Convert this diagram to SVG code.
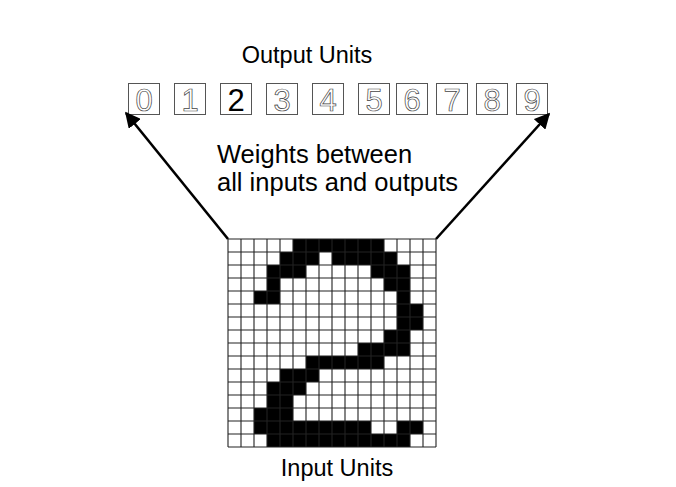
<svg xmlns="http://www.w3.org/2000/svg" width="676" height="487" viewBox="0 0 676 487">
<style>
.lbl{font-family:"Liberation Sans",Arial,sans-serif;fill:#000}
.box{fill:#fff;stroke:#555;stroke-width:1}
.dig{font-family:"Liberation Sans",Arial,sans-serif;font-size:31px;fill:#fff;stroke:#444;stroke-width:0.7;text-anchor:middle}
.dig.on{fill:#000;stroke:none}
.grid{fill:none;stroke:#222;stroke-width:1.1}
.conn{stroke:#000;stroke-width:2.6;fill:none}
</style>
<defs>
<marker id="ah" viewBox="0 0 10 10" refX="9" refY="5" markerWidth="6" markerHeight="6" orient="auto" markerUnits="strokeWidth">
<path d="M0,0 L10,5 L0,10 z" fill="#000"/>
</marker>
</defs>
<rect width="676" height="487" fill="#fff"/>
<text class="lbl" x="307" y="63" font-size="23.5" text-anchor="middle">Output Units</text>
<g id="outputs">
<g id="out0"><rect class="box" x="128.5" y="83.5" width="31" height="31"/><text class="dig" x="144" y="110.5">0</text></g>
<g id="out1"><rect class="box" x="174.5" y="83.5" width="31" height="31"/><text class="dig" x="190" y="110.5">1</text></g>
<g id="out2"><rect class="box" x="220.5" y="83.5" width="31" height="31"/><text class="dig on" x="236" y="110.5">2</text></g>
<g id="out3"><rect class="box" x="266.5" y="83.5" width="31" height="31"/><text class="dig" x="282" y="110.5">3</text></g>
<g id="out4"><rect class="box" x="312.5" y="83.5" width="31" height="31"/><text class="dig" x="328" y="110.5">4</text></g>
<g id="out5"><rect class="box" x="358.5" y="83.5" width="31" height="31"/><text class="dig" x="374" y="110.5">5</text></g>
<g id="out6"><rect class="box" x="396.5" y="83.5" width="31" height="31"/><text class="dig" x="412" y="110.5">6</text></g>
<g id="out7"><rect class="box" x="436.5" y="83.5" width="31" height="31"/><text class="dig" x="452" y="110.5">7</text></g>
<g id="out8"><rect class="box" x="476.5" y="83.5" width="31" height="31"/><text class="dig" x="492" y="110.5">8</text></g>
<g id="out9"><rect class="box" x="516.5" y="83.5" width="31" height="31"/><text class="dig" x="532" y="110.5">9</text></g>
</g>
<text class="lbl" font-size="25.5"><tspan x="217" y="163">Weights between</tspan><tspan x="217" y="191">all inputs and outputs</tspan></text>
<g id="connectors">
<line class="conn" x1="228" y1="239" x2="126" y2="113" marker-end="url(#ah)"/>
<line class="conn" x1="436" y1="239" x2="549" y2="114" marker-end="url(#ah)"/>
</g>
<g id="input">
<rect x="228" y="239" width="208" height="208" fill="#fff"/>
<path fill="#000" d="M293,239h91v13h-91z M280,252h39v13h-39z M332,252h65v13h-65z M267,265h39v13h-39z M371,265h39v13h-39z M267,278h13v13h-13z M384,278h26v13h-26z M254,291h26v13h-26z M397,291h13v13h-13z M397,304h26v26h-26z M384,330h26v13h-26z M358,343h52v13h-52z M306,356h78v13h-78z M280,369h39v13h-39z M267,382h39v13h-39z M267,395h26v13h-26z M254,408h39v13h-39z M254,421h117v13h-117z M397,421h26v13h-26z M267,434h143v13h-143z"/>
<path class="grid" d="M228,239V447M241,239V447M254,239V447M267,239V447M280,239V447M293,239V447M306,239V447M319,239V447M332,239V447M345,239V447M358,239V447M371,239V447M384,239V447M397,239V447M410,239V447M423,239V447M436,239V447 M228,239H436M228,252H436M228,265H436M228,278H436M228,291H436M228,304H436M228,317H436M228,330H436M228,343H436M228,356H436M228,369H436M228,382H436M228,395H436M228,408H436M228,421H436M228,434H436M228,447H436"/>
</g>
<text class="lbl" x="337" y="476" font-size="23.5" text-anchor="middle">Input Units</text>
</svg>
